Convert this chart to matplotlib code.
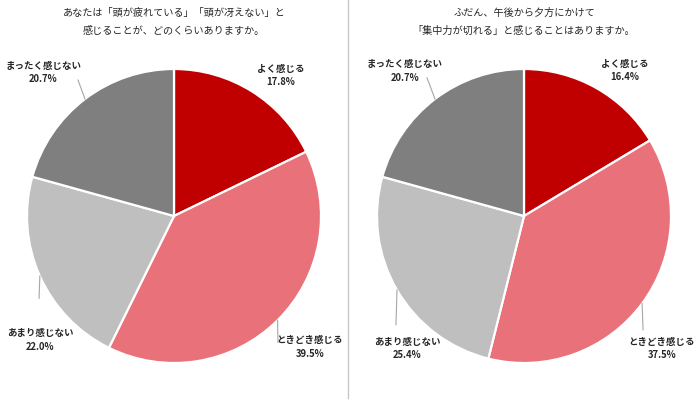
import numpy as np
import matplotlib.pyplot as plt
from matplotlib.lines import Line2D

plt.rcParams['font.family'] = ['Noto Sans CJK JP', 'DejaVu Sans']

# data
categories = ['よく感じる', 'ときどき感じる', 'あまり感じない', 'まったく感じない']
tired_values = [17.8, 39.5, 22.0, 20.7]
focus_values = [16.4, 37.5, 25.4, 20.7]
tired_title = ['あなたは「頭が疲れている」「頭が冴えない」と', '感じることが、どのくらいありますか。']
focus_title = ['ふだん、午後から夕方にかけて', '「集中力が切れる」と感じることはありますか。']

colors = ['#C00000', '#E8717A', '#BFBFBF', '#7F7F7F']

W, H = 700, 400
R = 147.0  # pie radius in px

# label positions (pie units) and leader line ends (None = no line)
left_labels = [(0.728, 0.955), (0.925, -0.89), (-0.912, -0.845), (-0.891, 0.975)]
left_ends = [None, (0.707, -0.86), (-0.918, -0.56), (-0.653, 0.925)]
right_labels = [(0.687, 0.99), (0.939, -0.9), (-0.796, -0.9), (-0.81, 0.985)]
right_ends = [None, (0.81, -0.775), (-0.871, -0.74), (-0.66, 0.94)]


def draw_pie(fig, x0, x1, cx, cy, values, title, label_pos, line_ends):
    ax = fig.add_axes([x0 / W, 0, (x1 - x0) / W, 1])
    wedges, _ = ax.pie(values, colors=colors, startangle=90, counterclock=False,
                       wedgeprops=dict(edgecolor='white', linewidth=1.6))
    ax.set_xlim(-(cx - x0) / R, (x1 - cx) / R)
    ax.set_ylim(-(H - cy) / R, cy / R)
    ax.set_aspect('auto')
    ax.axis('off')

    for w, val, cat, pos, end in zip(wedges, values, categories, label_pos, line_ends):
        mid = np.deg2rad((w.theta1 + w.theta2) / 2)
        if end is not None:
            sx, sy = np.cos(mid), np.sin(mid)
            ax.plot([sx, end[0]], [sy, end[1]], color='#A6A6A6', lw=0.8)
        ax.text(pos[0], pos[1], f'{cat}\n{val:.1f}%', ha='center', va='center',
                fontsize=6.8, fontweight='bold', color='#262626', linespacing=1.45)

    for i, line in enumerate(title):
        fig.text(cx / W, 1 - (13 + 18 * i) / H, line, ha='center', va='center',
                 fontsize=7.3, color='#262626')
    return ax


fig = plt.figure(figsize=(W / 100, H / 100), dpi=100)
draw_pie(fig, 0, 348, 174, 216, tired_values, tired_title, left_labels, left_ends)
draw_pie(fig, 350, 700, 524, 216, focus_values, focus_title, right_labels, right_ends)

fig.add_artist(Line2D([348 / W, 348 / W], [1 - 398 / H, 1], color='#C8C8C8', lw=1.0))

fig.savefig('out.png', dpi=100)
